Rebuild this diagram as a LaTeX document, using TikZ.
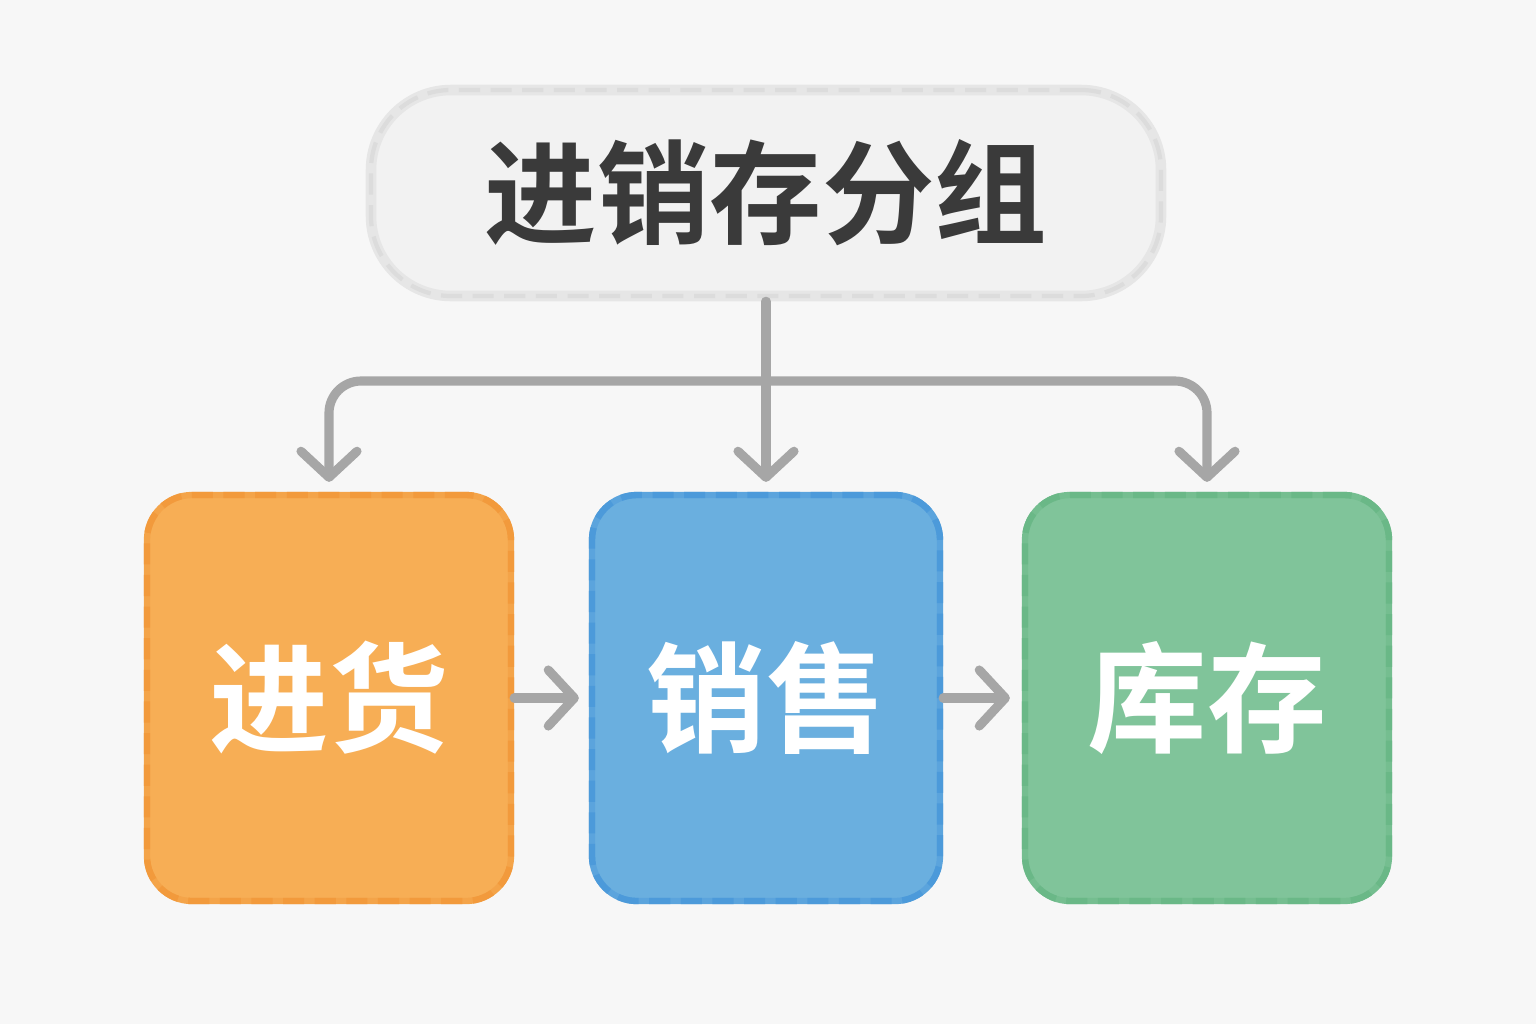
\documentclass[tikz,border=0pt]{standalone}
\usepackage{fontspec}
\newfontfamily\cjk{Noto Sans CJK SC}[BoldFont={Noto Sans CJK SC Bold}]
\usetikzlibrary{arrows.meta, positioning}

\definecolor{bgcol}{HTML}{F7F7F7}
\definecolor{titlefill}{HTML}{F2F2F2}
\definecolor{titleline}{HTML}{E6E6E6}
\definecolor{titledash}{HTML}{DCDCDC}
\definecolor{titletext}{HTML}{3A3A3A}
\definecolor{linkgray}{HTML}{A6A6A6}
\definecolor{orangefill}{HTML}{F7AE55}
\definecolor{orangeline}{HTML}{F29A3C}
\definecolor{bluefill}{HTML}{6AAFDF}
\definecolor{blueline}{HTML}{4C9ADA}
\definecolor{greenfill}{HTML}{80C49A}
\definecolor{greenline}{HTML}{6AB887}

\begin{document}
\begin{tikzpicture}[
    >={Straight Barb[round, length=0.26cm, width=0.56cm]}, % Chevron arrow tips
    link/.style={->, draw=linkgray, line width=2.6pt, line cap=round}, % Gray connectors
    titlebox/.style={fill=titlefill, draw=titleline, line width=3pt,
        rounded corners=0.8cm, minimum width=7.9cm, minimum height=2.06cm,
        text=titletext, font=\cjk\bfseries\fontsize{32}{32}\selectfont,
        postaction={draw=titledash, line width=1.2pt, dash pattern=on 6pt off 3pt}},
    card/.style={rounded corners=0.45cm, minimum height=4.06cm, line width=1.8pt,
        text=white, font=\cjk\bfseries\fontsize{34}{34}\selectfont}, % Coloured boxes
    cardorange/.style={card, fill=orangefill, draw=orangefill!50!orangeline,
        minimum width=3.64cm, postaction={draw=orangeline, line width=1.8pt, dash pattern=on 6pt off 3pt}},
    cardblue/.style={card, fill=bluefill, draw=bluefill!50!blueline,
        minimum width=3.48cm, postaction={draw=blueline, line width=1.8pt, dash pattern=on 6pt off 3pt}},
    cardgreen/.style={card, fill=greenfill, draw=greenfill!50!greenline,
        minimum width=3.64cm, postaction={draw=greenline, line width=1.8pt, dash pattern=on 6pt off 3pt}}
]

    % Background and page size
    \fill[bgcol] (0,0) rectangle (15.36,-10.24);
    \useasboundingbox (0,0) rectangle (15.36,-10.24);

    % Title
    \node[titlebox] (title) at (7.66,-1.93) {进销存分组};

    % The three groups
    \node[cardorange] (jinhuo) at (3.29,-6.98) {进货};
    \node[cardblue] (xiaoshou) at (7.66,-6.98) {销售};
    \node[cardgreen] (kucun) at (12.07,-6.98) {库存};

    % Branch point under the title
    \coordinate (bus) at (7.66,-3.81);

    % Tree connectors
    \draw[link, shorten >=0.1cm] (title.south) -- (xiaoshou.north);
    \draw[link, rounded corners=0.32cm, shorten >=0.1cm] (bus) -| (jinhuo.north);
    \draw[link, rounded corners=0.32cm, shorten >=0.1cm] (bus) -| (kucun.north);

    % Flow between the groups
    \draw[link, shorten >=0.1cm] (jinhuo.east) -- (xiaoshou.west);
    \draw[link, shorten >=0.12cm] (xiaoshou.east) -- (kucun.west);

\end{tikzpicture}
\end{document}
